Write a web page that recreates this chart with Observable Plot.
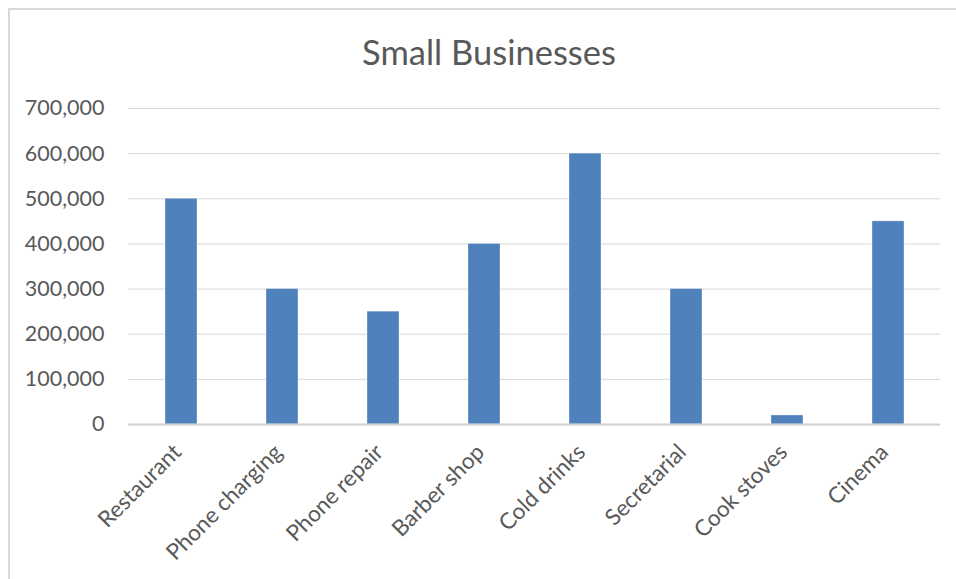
<!DOCTYPE html>
<html>
<head>
<meta charset="utf-8">
<script src="https://cdn.jsdelivr.net/npm/d3@7"></script>
<script src="https://cdn.jsdelivr.net/npm/@observablehq/plot@0.6"></script>
<style>
  html, body { margin: 0; padding: 0; background: #fff; overflow: hidden; }
  #wrap { position: relative; width: 956px; height: 579px; font-family: Lato, "Open Sans", sans-serif; color: #595959; }
  #frame { position: absolute; left: 8px; top: 8px; width: 960px; height: 600px; border: 2px solid #d9d9d9; pointer-events: none; }
  #title { box-sizing: border-box; height: 90px; padding-top: 35px; padding-left: 22px; font-size: 34.5px; line-height: 34.5px; text-align: center; color: #595959; }
  svg { display: block; }
</style>
</head>
<body>
<div id="wrap">
  <div id="frame"></div>
  <div id="title">Small Businesses</div>
  <div id="chart"></div>
</div>
<script>
const categories = ["Restaurant", "Phone charging", "Phone repair", "Barber shop", "Cold drinks", "Secretarial", "Cook stoves", "Cinema"];
const values = [500000, 300000, 250000, 400000, 600000, 300000, 20000, 450000];
const yTicks = [0, 100000, 200000, 300000, 400000, 500000, 600000, 700000];

const data = categories.map((c, i) => ({category: c, value: values[i]}));

const chart = Plot.plot({
  width: 956,
  height: 489,
  marginTop: 18,
  marginBottom: 155,
  marginLeft: 128,
  marginRight: 16,
  style: {fontFamily: "Lato, 'Open Sans', sans-serif", color: "#595959", background: "transparent"},
  x: {domain: categories, paddingInner: 0.685, paddingOuter: 0.3425, label: null},
  y: {domain: [0, 700000], ticks: yTicks, label: null},
  marks: [
    Plot.gridY(yTicks.filter(d => d > 0), {stroke: "#d9d9d9", strokeOpacity: 1, strokeWidth: 1}),
    Plot.barY(data, {x: "category", y: "value", fill: "#4f81bd", stroke: "#ffffff", strokeOpacity: 0.35, strokeWidth: 1}),
    Plot.ruleY([0], {stroke: "#d0d0d0", strokeWidth: 2}),
    Plot.axisY(yTicks, {tickSize: 0, tickPadding: 24, tickFormat: d3.format(","), fontSize: 21.5, fill: "#595959", label: null}),
    Plot.axisX({tickSize: 0, tickRotate: -45, tickPadding: 24, dx: -4, fontSize: 22.5, fill: "#595959", label: null})
  ]
});
document.getElementById("chart").appendChild(chart);
</script>
</body>
</html>
